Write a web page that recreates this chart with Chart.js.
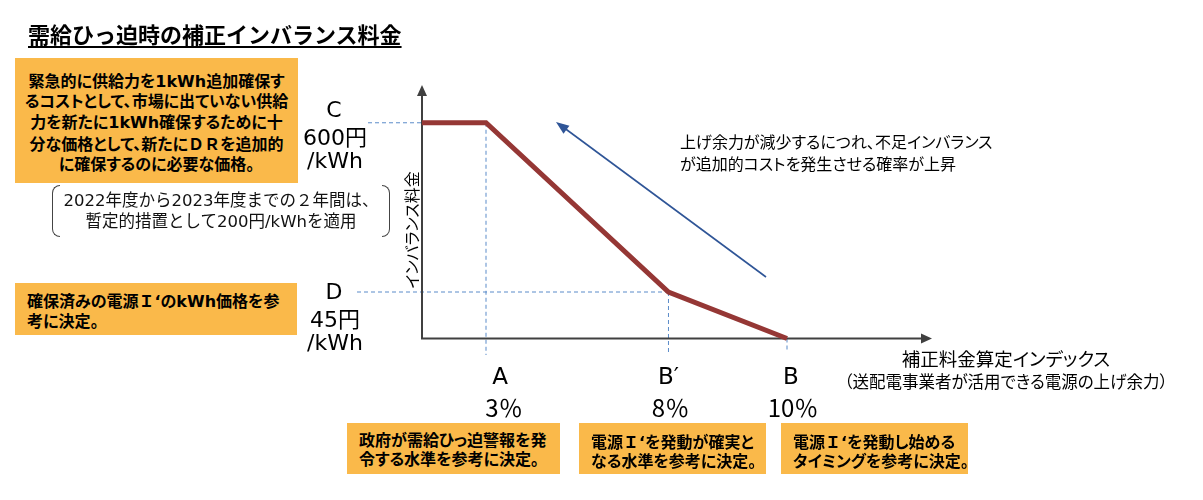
<!DOCTYPE html>
<html lang="ja">
<head>
<meta charset="utf-8">
<title>需給ひっ迫時の補正インバランス料金</title>
<script src="https://cdn.jsdelivr.net/npm/chart.js@4.4.1/dist/chart.umd.min.js"></script>
<style>
html, body { margin: 0; padding: 0; background: #fff; }
body {
    width: 1203px; height: 500px; position: relative; overflow: hidden;
    font-family: "DejaVu Sans", "Noto Sans CJK JP", sans-serif; color: #000;
}
#wrap { position: absolute; left: 0; top: 0; width: 1203px; height: 500px; }
.t { position: absolute; white-space: nowrap; }
.palt { font-feature-settings: "palt"; }
.fw { font-feature-settings: normal; font-family: "Noto Sans CJK JP", sans-serif; }
.box {
    position: absolute; background: #FAB94A; font-weight: bold; font-size: 16px;
    white-space: nowrap; box-sizing: border-box; font-feature-settings: "palt";
}
#title {
    left: 28px; top: 19px; font-size: 22px; font-weight: bold; line-height: 28px;
    font-family: "Noto Sans CJK JP", sans-serif;
    text-decoration: underline; text-underline-offset: 3px; text-decoration-thickness: 2px;
}
#box1 { left: 15px; top: 58px; width: 283px; height: 125px; padding-top: 14px; line-height: 20.3px; text-align: center; }
#box2 { left: 15px; top: 283px; width: 282px; height: 52px; padding: 7px 0 0 12px; line-height: 20px; }
.bottom { top: 423px; height: 51px; padding: 9px 0 0 12px; line-height: 18.5px; }
#bracket {
    left: 52px; top: 185px; width: 338px; height: 52px; font-size: 16.5px; line-height: 21px;
    text-align: center; padding-top: 5px; box-sizing: border-box; color: #111;
}
#bracket .l, #bracket .r {
    position: absolute; top: 0; width: 7px; height: 50px; border: 1.5px solid #444;
}
#bracket .l { left: 0; border-right: none; border-radius: 8px 0 0 8px; }
#bracket .r { right: 0; border-left: none; border-radius: 0 8px 8px 0; }
#trend { left: 680px; top: 132px; font-size: 16px; line-height: 22px; }
#xtitle { left: 836px; top: 347px; width: 340px; text-align: center; }
#xtitle .main { font-size: 18.5px; line-height: 26px; }
#xtitle .sub { font-size: 16.5px; line-height: 20px; }
#ytitle {
    left: 353px; top: 220px; width: 120px; height: 20px; line-height: 20px; font-size: 16px;
    text-align: center; transform: rotate(-90deg);
}
</style>
</head>
<body>
<div id="wrap"><canvas id="chart"></canvas></div>

<div id="title" class="t">需給ひっ迫時の補正インバランス料金</div>

<div id="box1" class="box">緊急的に供給力を1kWh追加確保す<br>るコストとして、市場に出ていない供給<br>力を新たに1kWh確保するために十<br>分な価格として、新たに<span class="fw">ＤＲ</span>を追加的<br>に確保するのに必要な価格。</div>

<div id="bracket" class="t"><span class="l"></span><span class="r"></span>2022年度から2023年度までの２年間は、<br>暫定的措置として200円/kWhを適用</div>

<div id="box2" class="box">確保済みの電源<span class="fw">Ｉ</span>‘のkWh価格を参<br>考に決定。</div>

<div class="box bottom" style="left:347px;width:213px;">政府が需給ひっ迫警報を発<br>令する水準を参考に決定。</div>
<div class="box bottom" style="left:579px;width:187px;">電源<span class="fw">Ｉ</span>‘を発動が確実と<br>なる水準を参考に決定。</div>
<div class="box bottom" style="left:781px;width:187px;">電源<span class="fw">Ｉ</span>‘を発動し始める<br>タイミングを参考に決定。</div>

<div id="trend" class="t palt">上げ余力が減少するにつれ、不足インバランス<br>が追加的コストを発生させる確率が上昇</div>

<div id="ytitle" class="t palt">インバランス料金</div>

<div id="xtitle" class="t palt"><div class="main">補正料金算定インデックス</div><div class="sub">（送配電事業者が活用できる電源の上げ余力）</div></div>

<script>
// curve: reserve margin (%) vs imbalance price (yen/kWh)
const reserveMargin = [0, 3, 8, 10];
const imbalancePrice = [600, 600, 45, 0];

// x marks under the axis
const marginMarks = [3, 8, 10];
const marginLetters = ['A', 'B′', 'B'];
const marginTexts = ['3％', '8％', '10％'];

// y marks left of the axis
const priceMarks = [600, 45];
const priceLetters = ['C', 'D'];
const priceTexts = ['600円', '45円'];

// the picture is schematic, not to scale: value -> fraction of the axis
const knots = {
    x: [[0, 0], [3, 0.1255], [8, 0.4833], [10, 0.7157]],
    y: [[0, 0], [45, 0.1834], [600, 0.851]]
};

function toFrac(k, v) {
    let i = 1;
    while (i < k.length - 1 && v > k[i][0]) i++;
    const a = k[i - 1], b = k[i];
    return a[1] + (v - a[0]) * (b[1] - a[1]) / (b[0] - a[0]);
}

function fromFrac(k, f) {
    let i = 1;
    while (i < k.length - 1 && f > k[i][1]) i++;
    const a = k[i - 1], b = k[i];
    return a[0] + (f - a[1]) * (b[0] - a[0]) / (b[1] - a[1]);
}

class SchematicScale extends Chart.LinearScale {
    getPixelForValue(value) {
        return this.getPixelForDecimal(toFrac(knots[this.axis], value));
    }
    getValueForPixel(pixel) {
        return fromFrac(knots[this.axis], this.getDecimalForPixel(pixel));
    }
}
SchematicScale.id = 'schematic';
SchematicScale.defaults = Chart.LinearScale.defaults;
Chart.register(SchematicScale);

const axisColor = '#404040';
const guideColor = '#5B8BC9';
const arrowColor = '#2F5597';
const labelFont = '23px "DejaVu Sans", "Noto Sans CJK JP", sans-serif';
const priceFont = '22px "DejaVu Sans", "Noto Sans CJK JP", sans-serif';
const percentFont = '24px "Noto Sans CJK JP", sans-serif';

function arrowHead(ctx, x1, y1, x2, y2, len, half) {
    const ang = Math.atan2(y2 - y1, x2 - x1);
    ctx.beginPath();
    ctx.moveTo(x2, y2);
    ctx.lineTo(x2 - len * Math.cos(ang) + half * Math.sin(ang), y2 - len * Math.sin(ang) - half * Math.cos(ang));
    ctx.lineTo(x2 - len * Math.cos(ang) - half * Math.sin(ang), y2 - len * Math.sin(ang) + half * Math.cos(ang));
    ctx.closePath();
    ctx.fill();
}

const diagram = {
    id: 'diagram',
    beforeDatasetsDraw(chart) {
        const { ctx, chartArea: area, scales: { x, y } } = chart;
        ctx.save();

        // dashed guides
        ctx.strokeStyle = guideColor;
        ctx.lineWidth = 1;
        ctx.setLineDash([4, 3]);
        const guideStart = [368, 357];
        const guideEnd = [355, 355, 352];
        priceMarks.forEach((p, i) => {
            const py = y.getPixelForValue(p);
            const px = x.getPixelForValue(marginMarks[i]);
            ctx.beginPath();
            ctx.moveTo(guideStart[i], py);
            ctx.lineTo(px, py);
            ctx.stroke();
        });
        marginMarks.forEach((m, i) => {
            const px = x.getPixelForValue(m);
            const py = y.getPixelForValue(imbalancePrice[reserveMargin.indexOf(m)]);
            ctx.beginPath();
            ctx.moveTo(px, py);
            ctx.lineTo(px, guideEnd[i]);
            ctx.stroke();
        });
        ctx.setLineDash([]);

        // axes with arrow heads
        ctx.strokeStyle = axisColor;
        ctx.fillStyle = axisColor;
        ctx.lineWidth = 2;
        ctx.beginPath();
        ctx.moveTo(area.left, area.top + 8);
        ctx.lineTo(area.left, area.bottom);
        ctx.lineTo(area.right - 8, area.bottom);
        ctx.stroke();
        arrowHead(ctx, area.left, area.bottom, area.left, area.top, 11, 5);
        arrowHead(ctx, area.left, area.bottom, area.right, area.bottom, 11, 5);

        // trend arrow
        ctx.strokeStyle = arrowColor;
        ctx.fillStyle = arrowColor;
        ctx.lineWidth = 1.6;
        ctx.beginPath();
        ctx.moveTo(766, 277);
        ctx.lineTo(563, 127);
        ctx.stroke();
        arrowHead(ctx, 766, 277, 556, 122, 13, 5);

        // labels
        ctx.fillStyle = '#000';
        ctx.textAlign = 'center';
        ctx.textBaseline = 'middle';
        const shift = [15, 0, 4];
        marginMarks.forEach((m, i) => {
            const px = x.getPixelForValue(m);
            ctx.font = labelFont;
            ctx.fillText(marginLetters[i], px + shift[i] - (i === 0 ? 1 : 0), 378);
            ctx.font = percentFont;
            ctx.fillText(marginTexts[i], px + shift[i] + (i === 0 ? 3 : 2), 408);
        });
        ctx.font = priceFont;
        const lift = [-11, 1];
        priceMarks.forEach((p, i) => {
            const py = y.getPixelForValue(p) + lift[i];
            ctx.fillText(priceLetters[i], 334, py);
            ctx.fillText(priceTexts[i], 335, py + 28);
            ctx.fillText('/kWh', 335, py + 51);
        });
        ctx.restore();
    }
};

new Chart(document.getElementById('chart'), {
    type: 'line',
    data: {
        datasets: [{
            label: '補正インバランス料金',
            data: reserveMargin.map((m, i) => ({ x: m, y: imbalancePrice[i] })),
            borderColor: '#953735',
            borderWidth: 5,
            borderJoinStyle: 'miter',
            pointRadius: 0,
            tension: 0,
            clip: false
        }]
    },
    options: {
        responsive: true,
        maintainAspectRatio: false,
        animation: false,
        events: [],
        layout: {
            padding: { left: 422, right: 271, top: 85, bottom: 161.5 }
        },
        scales: {
            x: { type: 'schematic', display: false, min: 0, max: 10 },
            y: { type: 'schematic', display: false, min: 0, max: 600 }
        },
        plugins: {
            legend: { display: false },
            tooltip: { enabled: false }
        }
    },
    plugins: [diagram]
});
</script>
</body>
</html>
